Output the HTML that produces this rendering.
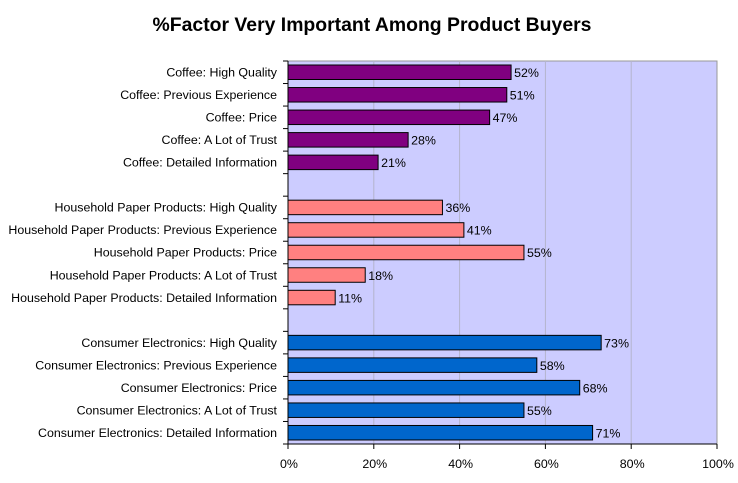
<!DOCTYPE html>
<html><head><meta charset="utf-8"><style>
html,body{margin:0;padding:0;background:#fff;}
svg{display:block;font-family:"Liberation Sans",Arial,sans-serif;}
</style></head><body>
<svg width="738" height="483" viewBox="0 0 738 483" xmlns="http://www.w3.org/2000/svg">
<rect width="738" height="483" fill="#fff"/>
<text x="372" y="31" text-anchor="middle" font-size="19.4" font-weight="bold">%Factor Very Important Among Product Buyers</text>
<rect x="288" y="61" width="429" height="383" fill="#ccccff" stroke="#999" stroke-width="1"/>
<g stroke="#b4b4cc" stroke-width="1">
<line x1="373.8" y1="61" x2="373.8" y2="444"/><line x1="459.6" y1="61" x2="459.6" y2="444"/>
<line x1="545.4" y1="61" x2="545.4" y2="444"/><line x1="631.2" y1="61" x2="631.2" y2="444"/>
</g>
<g id="bars" font-size="12.4" stroke-width="1">
</g>
<g stroke="#000" stroke-width="1">
<line x1="288" y1="61" x2="288" y2="444"/><line x1="288" y1="444" x2="717" y2="444"/>
</g>
<g id="ticks" stroke="#000"></g>
<g font-size="12.4" text-anchor="middle">
<text x="289" y="468">0%</text><text x="374.8" y="468">20%</text><text x="460.6" y="468">40%</text>
<text x="546.4" y="468">60%</text><text x="632.2" y="468">80%</text><text x="718" y="468">100%</text>
</g>
<script>
var d=[["Coffee: High Quality",52,0],["Coffee: Previous Experience",51,0],["Coffee: Price",47,0],["Coffee: A Lot of Trust",28,0],["Coffee: Detailed Information",21,0],null,
["Household Paper Products: High Quality",36,1],["Household Paper Products: Previous Experience",41,1],["Household Paper Products: Price",55,1],["Household Paper Products: A Lot of Trust",18,1],["Household Paper Products: Detailed Information",11,1],null,
["Consumer Electronics: High Quality",73,2],["Consumer Electronics: Previous Experience",58,2],["Consumer Electronics: Price",68,2],["Consumer Electronics: A Lot of Trust",55,2],["Consumer Electronics: Detailed Information",71,2]];
var col=["#800080","#ff8080","#0066cc"];
var ns="http://www.w3.org/2000/svg",s=383/17,g=document.getElementById("bars"),t=document.getElementById("ticks");
function el(n,a,p){var e=document.createElementNS(ns,n);for(var k in a)e.setAttribute(k,a[k]);p.appendChild(e);return e;}
for(var i=0;i<=17;i++){var y=61+i*s;el("line",{x1:283,x2:288,y1:y,y2:y},t);}
for(var i=0;i<=5;i++){var x=288+i*85.8;el("line",{x1:x,x2:x,y1:444,y2:449},t);}
d.forEach(function(r,i){if(!r)return;var y=61+i*s,w=r[1]*4.29;
el("rect",{x:288,y:y+4,width:w,height:14.5,fill:col[r[2]],stroke:"#000"},g);
el("text",{x:288+w+3,y:y+16},g).textContent=r[1]+"%";
el("text",{x:277,y:y+15.5,"text-anchor":"end"},g).textContent=r[0];});
</script>
</svg>
</body></html>
